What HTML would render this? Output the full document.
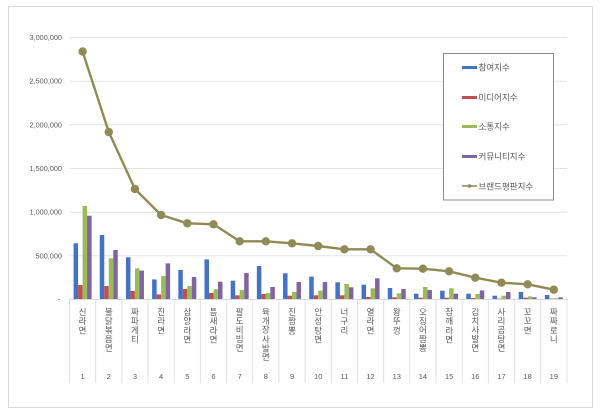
<!DOCTYPE html>
<html><head><meta charset="utf-8"><style>
html,body{margin:0;padding:0;background:#fff;}
svg{display:block;}
text{font-family:"Liberation Sans","Noto Sans CJK KR",sans-serif;fill:#595959;}
.k{font-family:"Liberation Sans","Noto Sans CJK KR",sans-serif;font-size:8.5px;fill:#595959;}
</style></head><body>
<svg width="600" height="417" viewBox="0 0 600 417" xmlns="http://www.w3.org/2000/svg">
<rect x="0" y="0" width="600" height="417" fill="#fff"/>
<rect x="8.5" y="6.5" width="584" height="401" fill="#fff" stroke="#d9d9d9" stroke-width="1"/>
<g stroke="#e3e3e3" stroke-width="1">
<line x1="69.5" y1="37.5" x2="567" y2="37.5"/>
<line x1="69.5" y1="81.2" x2="567" y2="81.2"/>
<line x1="69.5" y1="124.8" x2="567" y2="124.8"/>
<line x1="69.5" y1="168.5" x2="567" y2="168.5"/>
<line x1="69.5" y1="212.2" x2="567" y2="212.2"/>
<line x1="69.5" y1="255.8" x2="567" y2="255.8"/>
</g>
<g stroke="#e0e0e0" stroke-width="1">
<line x1="69.5" y1="299" x2="69.5" y2="383"/>
<line x1="95.7" y1="299" x2="95.7" y2="383"/>
<line x1="121.9" y1="299" x2="121.9" y2="383"/>
<line x1="148.0" y1="299" x2="148.0" y2="383"/>
<line x1="174.2" y1="299" x2="174.2" y2="383"/>
<line x1="200.4" y1="299" x2="200.4" y2="383"/>
<line x1="226.6" y1="299" x2="226.6" y2="383"/>
<line x1="252.8" y1="299" x2="252.8" y2="383"/>
<line x1="278.9" y1="299" x2="278.9" y2="383"/>
<line x1="305.1" y1="299" x2="305.1" y2="383"/>
<line x1="331.3" y1="299" x2="331.3" y2="383"/>
<line x1="357.5" y1="299" x2="357.5" y2="383"/>
<line x1="383.7" y1="299" x2="383.7" y2="383"/>
<line x1="409.8" y1="299" x2="409.8" y2="383"/>
<line x1="436.0" y1="299" x2="436.0" y2="383"/>
<line x1="462.2" y1="299" x2="462.2" y2="383"/>
<line x1="488.4" y1="299" x2="488.4" y2="383"/>
<line x1="514.6" y1="299" x2="514.6" y2="383"/>
<line x1="540.7" y1="299" x2="540.7" y2="383"/>
<line x1="567" y1="299" x2="567" y2="383"/>
</g>
<line x1="69.5" y1="299.5" x2="567" y2="299.5" stroke="#d9d9d9" stroke-width="1"/>
<g font-size="7.3" text-anchor="end">
<text x="62" y="40">3,000,000</text>
<text x="62" y="83.7">2,500,000</text>
<text x="62" y="127.3">2,000,000</text>
<text x="62" y="171">1,500,000</text>
<text x="62" y="214.7">1,000,000</text>
<text x="62" y="258.3">500,000</text>
<text x="60" y="301.5">-</text>
</g>
<g id="bars">
<g transform="translate(82.59,0)"><rect x="-9" y="243.3" width="4.5" height="55.7" fill="#4472c4"/><rect x="-4.5" y="285" width="4.5" height="14" fill="#c0504d"/><rect x="0" y="206" width="4.5" height="93" fill="#9bbb59"/><rect x="4.5" y="215.7" width="4.5" height="83.3" fill="#8064a2"/></g>
<g transform="translate(108.77,0)"><rect x="-9" y="235" width="4.5" height="64" fill="#4472c4"/><rect x="-4.5" y="286" width="4.5" height="13" fill="#c0504d"/><rect x="0" y="258.3" width="4.5" height="40.7" fill="#9bbb59"/><rect x="4.5" y="250" width="4.5" height="49" fill="#8064a2"/></g>
<g transform="translate(134.95,0)"><rect x="-9" y="257.3" width="4.5" height="41.7" fill="#4472c4"/><rect x="-4.5" y="291" width="4.5" height="8" fill="#c0504d"/><rect x="0" y="268.3" width="4.5" height="30.7" fill="#9bbb59"/><rect x="4.5" y="270.6" width="4.5" height="28.4" fill="#8064a2"/></g>
<g transform="translate(161.13,0)"><rect x="-9" y="279.4" width="4.5" height="19.6" fill="#4472c4"/><rect x="-4.5" y="294.4" width="4.5" height="4.6" fill="#c0504d"/><rect x="0" y="276" width="4.5" height="23" fill="#9bbb59"/><rect x="4.5" y="263.4" width="4.5" height="35.6" fill="#8064a2"/></g>
<g transform="translate(187.31,0)"><rect x="-9" y="270" width="4.5" height="29" fill="#4472c4"/><rect x="-4.5" y="289" width="4.5" height="10" fill="#c0504d"/><rect x="0" y="286" width="4.5" height="13" fill="#9bbb59"/><rect x="4.5" y="277" width="4.5" height="22" fill="#8064a2"/></g>
<g transform="translate(213.49,0)"><rect x="-9" y="259.4" width="4.5" height="39.6" fill="#4472c4"/><rect x="-4.5" y="293" width="4.5" height="6" fill="#c0504d"/><rect x="0" y="289.3" width="4.5" height="9.7" fill="#9bbb59"/><rect x="4.5" y="281.7" width="4.5" height="17.3" fill="#8064a2"/></g>
<g transform="translate(239.67,0)"><rect x="-9" y="280.7" width="4.5" height="18.3" fill="#4472c4"/><rect x="-4.5" y="295.3" width="4.5" height="3.7" fill="#c0504d"/><rect x="0" y="290" width="4.5" height="9" fill="#9bbb59"/><rect x="4.5" y="273" width="4.5" height="26" fill="#8064a2"/></g>
<g transform="translate(265.85,0)"><rect x="-9" y="266" width="4.5" height="33" fill="#4472c4"/><rect x="-4.5" y="294" width="4.5" height="5" fill="#c0504d"/><rect x="0" y="293" width="4.5" height="6" fill="#9bbb59"/><rect x="4.5" y="287" width="4.5" height="12" fill="#8064a2"/></g>
<g transform="translate(292.03,0)"><rect x="-9" y="273.3" width="4.5" height="25.7" fill="#4472c4"/><rect x="-4.5" y="295.7" width="4.5" height="3.3" fill="#c0504d"/><rect x="0" y="292" width="4.5" height="7" fill="#9bbb59"/><rect x="4.5" y="282" width="4.5" height="17" fill="#8064a2"/></g>
<g transform="translate(318.21,0)"><rect x="-9" y="276.6" width="4.5" height="22.4" fill="#4472c4"/><rect x="-4.5" y="295.3" width="4.5" height="3.7" fill="#c0504d"/><rect x="0" y="290.7" width="4.5" height="8.3" fill="#9bbb59"/><rect x="4.5" y="282" width="4.5" height="17" fill="#8064a2"/></g>
<g transform="translate(344.39,0)"><rect x="-9" y="282.3" width="4.5" height="16.7" fill="#4472c4"/><rect x="-4.5" y="295.3" width="4.5" height="3.7" fill="#c0504d"/><rect x="0" y="284" width="4.5" height="15" fill="#9bbb59"/><rect x="4.5" y="287.3" width="4.5" height="11.7" fill="#8064a2"/></g>
<g transform="translate(370.57,0)"><rect x="-9" y="284.7" width="4.5" height="14.3" fill="#4472c4"/><rect x="-4.5" y="297" width="4.5" height="2" fill="#c0504d"/><rect x="0" y="288.3" width="4.5" height="10.7" fill="#9bbb59"/><rect x="4.5" y="278.3" width="4.5" height="20.7" fill="#8064a2"/></g>
<g transform="translate(396.75,0)"><rect x="-9" y="288" width="4.5" height="11" fill="#4472c4"/><rect x="-4.5" y="297.3" width="4.5" height="1.7" fill="#c0504d"/><rect x="0" y="293.3" width="4.5" height="5.7" fill="#9bbb59"/><rect x="4.5" y="289" width="4.5" height="10" fill="#8064a2"/></g>
<g transform="translate(422.93,0)"><rect x="-9" y="293.7" width="4.5" height="5.3" fill="#4472c4"/><rect x="-4.5" y="297.7" width="4.5" height="1.3" fill="#c0504d"/><rect x="0" y="287" width="4.5" height="12" fill="#9bbb59"/><rect x="4.5" y="290" width="4.5" height="9" fill="#8064a2"/></g>
<g transform="translate(449.11,0)"><rect x="-9" y="290.7" width="4.5" height="8.3" fill="#4472c4"/><rect x="-4.5" y="297.7" width="4.5" height="1.3" fill="#c0504d"/><rect x="0" y="288.3" width="4.5" height="10.7" fill="#9bbb59"/><rect x="4.5" y="293.7" width="4.5" height="5.3" fill="#8064a2"/></g>
<g transform="translate(475.29,0)"><rect x="-9" y="293.7" width="4.5" height="5.3" fill="#4472c4"/><rect x="-4.5" y="298" width="4.5" height="1" fill="#c0504d"/><rect x="0" y="294" width="4.5" height="5" fill="#9bbb59"/><rect x="4.5" y="290.4" width="4.5" height="8.6" fill="#8064a2"/></g>
<g transform="translate(501.47,0)"><rect x="-9" y="295.7" width="4.5" height="3.3" fill="#4472c4"/><rect x="-4.5" y="298.6" width="4.5" height="0.4" fill="#c0504d"/><rect x="0" y="295.7" width="4.5" height="3.3" fill="#9bbb59"/><rect x="4.5" y="292" width="4.5" height="7" fill="#8064a2"/></g>
<g transform="translate(527.65,0)"><rect x="-9" y="292" width="4.5" height="7" fill="#4472c4"/><rect x="-4.5" y="297.7" width="4.5" height="1.3" fill="#c0504d"/><rect x="0" y="296.4" width="4.5" height="2.6" fill="#9bbb59"/><rect x="4.5" y="297.3" width="4.5" height="1.7" fill="#8064a2"/></g>
<g transform="translate(553.83,0)"><rect x="-9" y="295" width="4.5" height="4" fill="#4472c4"/><rect x="-4.5" y="298.6" width="4.5" height="0.4" fill="#c0504d"/><rect x="0" y="298.3" width="4.5" height="0.7" fill="#9bbb59"/><rect x="4.5" y="297.3" width="4.5" height="1.7" fill="#8064a2"/></g>
</g>
<polyline fill="none" stroke="#928a56" stroke-width="2.4" stroke-linejoin="round" points="82.59,51.5 108.77,132 134.95,189 161.13,215 187.31,223.3 213.49,224.3 239.67,241.3 265.85,241.3 292.03,243.3 318.21,246 344.39,249.3 370.57,249.3 396.75,268.3 422.93,268.7 449.11,271.3 475.29,277.7 501.47,282.7 527.65,284.3 553.83,289.7"/>
<g fill="#928a56">
<circle cx="82.59" cy="51.5" r="4.2"/><circle cx="108.77" cy="132" r="4.2"/><circle cx="134.95" cy="189" r="4.2"/><circle cx="161.13" cy="215" r="4.2"/><circle cx="187.31" cy="223.3" r="4.2"/><circle cx="213.49" cy="224.3" r="4.2"/><circle cx="239.67" cy="241.3" r="4.2"/><circle cx="265.85" cy="241.3" r="4.2"/><circle cx="292.03" cy="243.3" r="4.2"/><circle cx="318.21" cy="246" r="4.2"/><circle cx="344.39" cy="249.3" r="4.2"/><circle cx="370.57" cy="249.3" r="4.2"/><circle cx="396.75" cy="268.3" r="4.2"/><circle cx="422.93" cy="268.7" r="4.2"/><circle cx="449.11" cy="271.3" r="4.2"/><circle cx="475.29" cy="277.7" r="4.2"/><circle cx="501.47" cy="282.7" r="4.2"/><circle cx="527.65" cy="284.3" r="4.2"/><circle cx="553.83" cy="289.7" r="4.2"/>
</g>
<g class="k" text-anchor="middle">
<text x="82.59" y="315"><tspan x="82.59">신</tspan><tspan x="82.59" dy="9.2">라</tspan><tspan x="82.59" dy="9.2">면</tspan></text>
<text x="108.77" y="315"><tspan x="108.77">불</tspan><tspan x="108.77" dy="9">닭</tspan><tspan x="108.77" dy="9">볶</tspan><tspan x="108.77" dy="9">음</tspan><tspan x="108.77" dy="9">면</tspan></text>
<text x="134.95" y="315"><tspan x="134.95">짜</tspan><tspan x="134.95" dy="9.2">파</tspan><tspan x="134.95" dy="9.2">게</tspan><tspan x="134.95" dy="9.2">티</tspan></text>
<text x="161.13" y="315"><tspan x="161.13">진</tspan><tspan x="161.13" dy="9.2">라</tspan><tspan x="161.13" dy="9.2">면</tspan></text>
<text x="187.31" y="315"><tspan x="187.31">삼</tspan><tspan x="187.31" dy="9.2">양</tspan><tspan x="187.31" dy="9.2">라</tspan><tspan x="187.31" dy="9.2">면</tspan></text>
<text x="213.49" y="315"><tspan x="213.49">틈</tspan><tspan x="213.49" dy="9.2">새</tspan><tspan x="213.49" dy="9.2">라</tspan><tspan x="213.49" dy="9.2">면</tspan></text>
<text x="239.67" y="315"><tspan x="239.67">팔</tspan><tspan x="239.67" dy="9">도</tspan><tspan x="239.67" dy="9">비</tspan><tspan x="239.67" dy="9">빔</tspan><tspan x="239.67" dy="9">면</tspan></text>
<text x="265.85" y="315"><tspan x="265.85">육</tspan><tspan x="265.85" dy="8.8">개</tspan><tspan x="265.85" dy="8.8">장</tspan><tspan x="265.85" dy="10">사</tspan><tspan x="265.85" dy="8.8">발</tspan><tspan x="265.85" dy="8.8">면</tspan></text>
<text x="292.03" y="315"><tspan x="292.03">진</tspan><tspan x="292.03" dy="9.2">짬</tspan><tspan x="292.03" dy="9.2">뽕</tspan></text>
<text x="318.21" y="315"><tspan x="318.21">안</tspan><tspan x="318.21" dy="9.2">성</tspan><tspan x="318.21" dy="9.2">탕</tspan><tspan x="318.21" dy="9.2">면</tspan></text>
<text x="344.39" y="315"><tspan x="344.39">너</tspan><tspan x="344.39" dy="9.2">구</tspan><tspan x="344.39" dy="9.2">리</tspan></text>
<text x="370.57" y="315"><tspan x="370.57">열</tspan><tspan x="370.57" dy="9.2">라</tspan><tspan x="370.57" dy="9.2">면</tspan></text>
<text x="396.75" y="315"><tspan x="396.75">왕</tspan><tspan x="396.75" dy="9.2">뚜</tspan><tspan x="396.75" dy="9.2">껑</tspan></text>
<text x="422.93" y="315"><tspan x="422.93">오</tspan><tspan x="422.93" dy="9">징</tspan><tspan x="422.93" dy="9">어</tspan><tspan x="422.93" dy="9">짬</tspan><tspan x="422.93" dy="9">뽕</tspan></text>
<text x="449.11" y="315"><tspan x="449.11">참</tspan><tspan x="449.11" dy="9.2">깨</tspan><tspan x="449.11" dy="9.2">라</tspan><tspan x="449.11" dy="9.2">면</tspan></text>
<text x="475.29" y="315"><tspan x="475.29">김</tspan><tspan x="475.29" dy="9">치</tspan><tspan x="475.29" dy="9">사</tspan><tspan x="475.29" dy="9">발</tspan><tspan x="475.29" dy="9">면</tspan></text>
<text x="501.47" y="315"><tspan x="501.47">사</tspan><tspan x="501.47" dy="9">리</tspan><tspan x="501.47" dy="9">곰</tspan><tspan x="501.47" dy="9">탕</tspan><tspan x="501.47" dy="9">면</tspan></text>
<text x="527.65" y="315"><tspan x="527.65">꼬</tspan><tspan x="527.65" dy="9.2">꼬</tspan><tspan x="527.65" dy="9.2">면</tspan></text>
<text x="553.83" y="315"><tspan x="553.83">짜</tspan><tspan x="553.83" dy="9.2">짜</tspan><tspan x="553.83" dy="9.2">로</tspan><tspan x="553.83" dy="9.2">니</tspan></text>
</g>
<g font-size="7.5" text-anchor="middle">
<text x="82.59" y="379">1</text><text x="108.77" y="379">2</text><text x="134.95" y="379">3</text><text x="161.13" y="379">4</text><text x="187.31" y="379">5</text><text x="213.49" y="379">6</text><text x="239.67" y="379">7</text><text x="265.85" y="379">8</text><text x="292.03" y="379">9</text><text x="318.21" y="379">10</text><text x="344.39" y="379">11</text><text x="370.57" y="379">12</text><text x="396.75" y="379">13</text><text x="422.93" y="379">14</text><text x="449.11" y="379">15</text><text x="475.29" y="379">16</text><text x="501.47" y="379">17</text><text x="527.65" y="379">18</text><text x="553.83" y="379">19</text>
</g>
<rect x="443.5" y="53.5" width="110" height="146.5" fill="#fff" stroke="#8c8c8c" stroke-width="1"/>
<rect x="462" y="66" width="15" height="3" fill="#4472c4"/>
<rect x="462" y="96" width="15" height="3" fill="#c0504d"/>
<rect x="462" y="125" width="15" height="3" fill="#9bbb59"/>
<rect x="462" y="155" width="15" height="3" fill="#8064a2"/>
<line x1="462" y1="186" x2="477" y2="186" stroke="#928a56" stroke-width="1.6"/>
<circle cx="469.5" cy="186" r="1.8" fill="#928a56"/>
<g class="k">
<text x="478.5" y="70.5">참여지수</text>
<text x="478.5" y="100.5">미디어지수</text>
<text x="478.5" y="129.5">소통지수</text>
<text x="478.5" y="159.5">커뮤니티지수</text>
<text x="478.5" y="189.5">브랜드평판지수</text>
</g>
</svg>
</body></html>
